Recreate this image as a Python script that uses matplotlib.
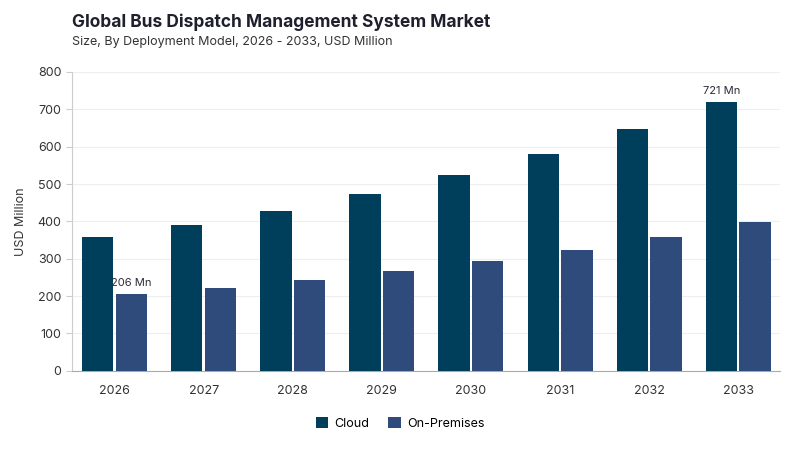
import matplotlib.pyplot as plt
import numpy as np

plt.rcParams['font.family'] = ['Inter', 'DejaVu Sans']

years = ['2026', '2027', '2028', '2029', '2030', '2031', '2032', '2033']
cloud = [358, 391, 429, 474, 524, 581, 647, 721]
on_prem = [206, 222, 243, 268, 294, 324, 358, 398]

fig = plt.figure(figsize=(8, 4.5), dpi=100)
ax = fig.add_axes([0.09, 0.176, 0.885, 0.664])

x = np.arange(len(years))
w = 0.35
b1 = ax.bar(x - 0.19, cloud, w, color='#003f5c', label='Cloud', zorder=3)
b2 = ax.bar(x + 0.19, on_prem, w, color='#2f4b7c', label='On-Premises', zorder=3)

ax.annotate(f'{on_prem[0]} Mn', (x[0] + 0.19, on_prem[0]), xytext=(0, 4),
            textcoords='offset points', ha='center', va='bottom',
            fontsize=8, color='#2b2b3a')
ax.annotate(f'{cloud[-1]} Mn', (x[-1] - 0.19, cloud[-1]), xytext=(0, 4),
            textcoords='offset points', ha='center', va='bottom',
            fontsize=8, color='#2b2b3a')

ax.set_xlim(-0.48, 7.47)
ax.set_ylim(0, 800)
ax.set_yticks(range(0, 801, 100))
ax.set_xticks(x)
ax.set_xticklabels(years)
ax.tick_params(axis='x', length=0, pad=10, labelsize=9, labelcolor='#333333')
ax.tick_params(axis='y', length=4, color='#cccccc', labelsize=9, labelcolor='#333333')
ax.yaxis.grid(True, color='#eeeeee', linewidth=0.8, zorder=0)
for s in ['top', 'right']:
    ax.spines[s].set_visible(False)
ax.spines['left'].set_color('#cccccc')
ax.spines['bottom'].set_color('#aaaaaa')
ax.set_ylabel('USD Million', fontsize=9, color='#333333', labelpad=8)

fig.text(0.09, 0.94, 'Global Bus Dispatch Management System Market',
         fontsize=12.5, fontweight='bold', color='#1f1f2e')
fig.text(0.09, 0.9, 'Size, By Deployment Model, 2026 - 2033, USD Million',
         fontsize=9, color='#333333')

fig.legend(handles=[b1, b2], loc='lower center', bbox_to_anchor=(0.5, 0.02),
           ncol=2, frameon=False, fontsize=9, handlelength=1, handleheight=1,
           columnspacing=1.5, handletextpad=0.5)

fig.savefig('out.png', dpi=100)
